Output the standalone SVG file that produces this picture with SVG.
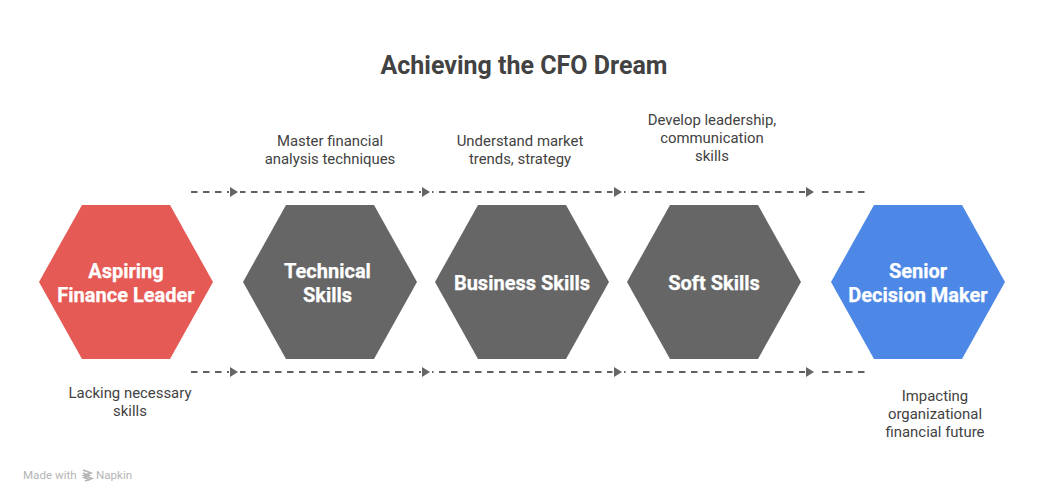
<svg xmlns="http://www.w3.org/2000/svg" width="1048" height="502" viewBox="0 0 1048 502">
<style>
text{font-family:Roboto,"Liberation Sans",sans-serif;text-anchor:middle}
.t{font-size:25px;font-weight:700;fill:#424242}
.n{font-size:20px;font-weight:700;fill:#fff;stroke:#fff;stroke-width:.25}
.l{font-size:14.9px;fill:#424242}
.w{font-size:11.6px;fill:#b4b4b4;text-anchor:start}
.c{fill:none;stroke:#616161;stroke-width:2;stroke-dasharray:6.5 5.5}
.a{fill:#666}
.g{fill:none;stroke:#b4b4b4;stroke-width:1.6}
</style>
<defs><polygon id="hex" points="-87,0 -44,-77 44,-77 87,0 44,77 -44,77"/></defs>
<rect width="1048" height="502" fill="#fff"/>
<text class="t" x="524" y="74">Achieving the CFO Dream</text>
<g id="connectors">
<g id="top">
<path class="c" d="M191 192H229"/><path class="c" stroke-dashoffset="1" d="M240 192H421"/><path class="c" stroke-dashoffset="5" d="M432 192H612.5"/><path class="c" stroke-dashoffset="5" d="M624 192H805"/><path class="c" d="M822 192H866"/>
</g>
<g id="bottom">
<path class="c" d="M191 372H229"/><path class="c" stroke-dashoffset="1" d="M240 372H421"/><path class="c" stroke-dashoffset="5" d="M432 372H612.5"/><path class="c" stroke-dashoffset="5" d="M624 372H805"/><path class="c" d="M822 372H866"/>
</g>
<path class="a" d="M230 187l8 5-8 5zM422 187l8 5-8 5zM614 187l8 5-8 5zM806 187l8 5-8 5zM230 367l8 5-8 5zM422 367l8 5-8 5zM614 367l8 5-8 5zM806 367l8 5-8 5z"/>
</g>
<g id="node-aspiring"><use href="#hex" x="126" y="282" fill="#e65a55"/><text class="n" x="126" y="278">Aspiring</text><text class="n" x="126" y="302">Finance Leader</text></g>
<g id="node-technical"><use href="#hex" x="330" y="282" fill="#666"/><text class="n" x="327.5" y="278">Technical</text><text class="n" x="327.5" y="302">Skills</text></g>
<g id="node-business"><use href="#hex" x="522" y="282" fill="#666"/><text class="n" x="522" y="290">Business Skills</text></g>
<g id="node-soft"><use href="#hex" x="714" y="282" fill="#666"/><text class="n" x="714" y="290">Soft Skills</text></g>
<g id="node-senior"><use href="#hex" x="918" y="282" fill="#4d88e6"/><text class="n" x="918" y="278">Senior</text><text class="n" x="918" y="302">Decision Maker</text></g>
<g id="labels">
<text class="l" x="330" y="146">Master financial</text><text class="l" x="330" y="164">analysis techniques</text>
<text class="l" x="520" y="146">Understand market</text><text class="l" x="520" y="164">trends, strategy</text>
<text class="l" x="712" y="125">Develop leadership,</text><text class="l" x="712" y="143">communication</text><text class="l" x="712" y="161">skills</text>
<text class="l" x="130" y="398">Lacking necessary</text><text class="l" x="130" y="416">skills</text>
<text class="l" x="935" y="401">Impacting</text><text class="l" x="935" y="419">organizational</text><text class="l" x="935" y="437">financial future</text>
</g>
<g id="watermark">
<text class="w" x="23" y="479">Made with</text>
<path class="g" d="M83 470l8 3-7 2.5 8 3-7 2.5M83 473l6 2.500-5 2 6 2.500"/>
<text class="w" x="96" y="479">Napkin</text>
</g>
</svg>
